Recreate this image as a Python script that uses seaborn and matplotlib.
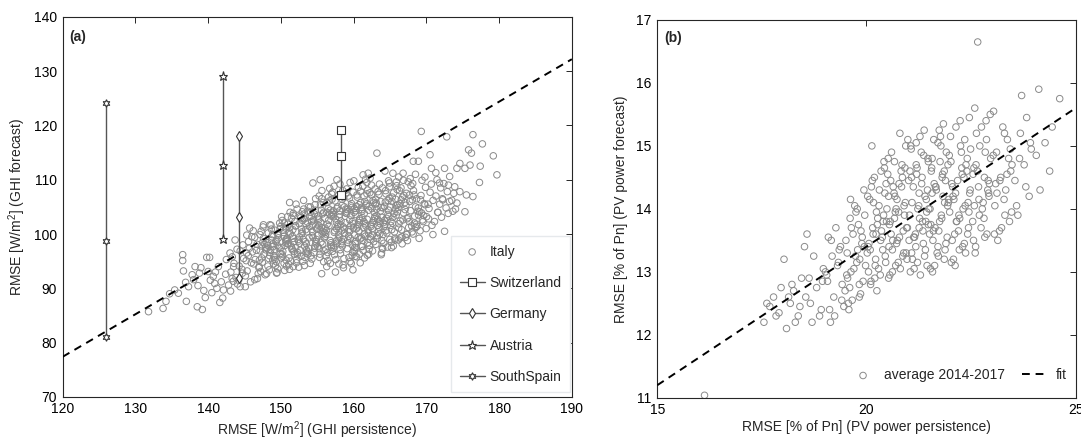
import matplotlib
matplotlib.use("Agg")
import matplotlib.pyplot as plt
import seaborn as sns

# --- DATA: panel (a), GHI forecast vs persistence ---
italy_x = [
    131.8, 133.8, 134.2, 134.7, 135.9, 135.4, 136.5, 136.5, 136.6, 137.0, 137.3, 138.0, 138.2, 138.5, 139.2,
    138.6, 139.4, 139.8, 140.2, 140.0, 140.7, 140.9, 141.6, 142.0, 142.1, 141.4, 142.5, 143.0, 143.7, 143.5,
    144.4, 145.1, 145.7, 146.0, 145.3, 146.4, 147.6, 148.5, 148.9, 150.1, 151.2, 151.7, 150.8, 149.4, 151.7,
    153.5, 154.4, 155.4, 156.3, 156.8, 157.7, 158.6, 159.5, 160.4, 161.3, 162.0, 163.2, 163.8, 164.3, 165.4,
    165.7, 166.8, 168.2, 168.9, 169.3, 170.5, 170.7, 169.0, 170.9, 172.5, 172.8, 172.5, 173.0, 174.2, 174.6,
    175.3, 175.8, 176.4, 176.2, 176.0, 177.4, 177.7, 179.2, 179.7, 177.3, 176.4, 175.3, 174.2, 173.9, 174.6,
    175.5, 137.8, 139.0, 140.3, 141.0, 141.8, 142.4, 139.6, 140.5, 141.2, 142.8, 143.3, 138.8, 136.9,
    164.8, 166.2, 167.5, 168.5, 169.8, 171.3, 171.8, 173.2, 172.2, 173.5, 174.0, 171.6, 170.3, 168.7, 167.3,
    166.4, 165.2, 164.0, 162.6, 161.5, 160.9, 159.9, 157.5, 155.6,
    143.12, 143.55, 143.83, 143.31, 143.97, 143.46, 143.08,
    144.71, 144.26, 144.88, 144.40, 144.64, 144.19, 144.77, 144.03,
    145.36, 145.92, 145.51, 145.67, 145.23, 145.12, 145.55, 145.83, 145.31,
    146.97, 146.46, 146.08, 146.71, 146.26, 146.88, 146.40, 146.64, 146.19, 146.77,
    147.03, 147.36, 147.92, 147.51, 147.67, 147.23, 147.12, 147.55, 147.83, 147.31,
    148.97, 148.46, 148.08, 148.71, 148.26, 148.88, 148.40, 148.64, 148.19, 148.77, 148.03,
    149.36, 149.92, 149.51, 149.67, 149.23, 149.12, 149.55, 149.83, 149.31, 149.97, 149.46, 149.08,
    150.71, 150.26, 150.88, 150.40, 150.64, 150.19, 150.77, 150.03, 150.36, 150.92, 150.51, 150.67, 150.23,
    151.12, 151.55, 151.83, 151.31, 151.97, 151.46, 151.08, 151.71, 151.26, 151.88, 151.40, 151.64, 151.19,
    152.77, 152.03, 152.36, 152.92, 152.51, 152.67, 152.23, 152.12, 152.55, 152.83, 152.31, 152.97, 152.46, 152.08,
    153.71, 153.26, 153.88, 153.40, 153.64, 153.19, 153.77, 153.03, 153.36, 153.92, 153.51, 153.67, 153.23, 153.12,
    154.55, 154.83, 154.31, 154.97, 154.46, 154.08, 154.71, 154.26, 154.88, 154.40, 154.64, 154.19, 154.77, 154.03, 154.36,
    155.92, 155.51, 155.67, 155.23, 155.12, 155.55, 155.83, 155.31, 155.97, 155.46, 155.08, 155.71, 155.26, 155.88, 155.40, 155.64,
    156.19, 156.77, 156.03, 156.36, 156.92, 156.51, 156.67, 156.23, 156.12, 156.55, 156.83, 156.31, 156.97, 156.46, 156.08, 156.71,
    157.26, 157.88, 157.40, 157.64, 157.19, 157.77, 157.03, 157.36, 157.92, 157.51, 157.67, 157.23, 157.12, 157.55, 157.83, 157.31, 157.97,
    158.46, 158.08, 158.71, 158.26, 158.88, 158.40, 158.64, 158.19, 158.77, 158.03, 158.36, 158.92, 158.51, 158.67, 158.23, 158.12, 158.55,
    159.83, 159.31, 159.97, 159.46, 159.08, 159.71, 159.26, 159.88, 159.40, 159.64, 159.19, 159.77, 159.03, 159.36, 159.92, 159.51, 159.67,
    160.23, 160.12, 160.55, 160.83, 160.31, 160.97, 160.46, 160.08, 160.71, 160.26, 160.88, 160.40, 160.64, 160.19, 160.77, 160.03, 160.36,
    161.92, 161.51, 161.67, 161.23, 161.12, 161.55, 161.83, 161.31, 161.97, 161.46, 161.08, 161.71, 161.26, 161.88, 161.40, 161.64, 161.19,
    162.77, 162.03, 162.36, 162.92, 162.51, 162.67, 162.23, 162.12, 162.55, 162.83, 162.31, 162.97, 162.46, 162.08, 162.71, 162.26,
    163.88, 163.40, 163.64, 163.19, 163.77, 163.03, 163.36, 163.92, 163.51, 163.67, 163.23, 163.12, 163.55, 163.83, 163.31,
    164.97, 164.46, 164.08, 164.71, 164.26, 164.88, 164.40, 164.64, 164.19, 164.77, 164.03, 164.36, 164.92, 164.51,
    165.67, 165.23, 165.12, 165.55, 165.83, 165.31, 165.97, 165.46, 165.08, 165.71, 165.26, 165.88, 165.40,
    166.64, 166.19, 166.77, 166.03, 166.36, 166.92, 166.51, 166.67, 166.23, 166.12, 166.55, 166.83,
    167.31, 167.97, 167.46, 167.08, 167.71, 167.26, 167.88, 167.40, 167.64, 167.19, 167.77,
    168.03, 168.36, 168.92, 168.51, 168.67, 168.23, 168.12, 168.55, 168.83, 168.31,
    169.97, 169.46, 169.08, 169.71, 169.26, 169.88, 169.40, 169.64, 169.19,
    170.77, 170.03, 170.36, 170.92, 170.51, 170.67, 170.23,
    171.12, 171.55, 171.83, 171.31, 171.97, 171.46,
    172.08, 172.71, 172.26, 172.88, 172.40,
    173.64, 173.19, 173.77, 173.03,
]
italy_y = [
    85.7, 86.3, 87.6, 89.0, 89.1, 89.7, 96.2, 95.1, 93.2, 87.6, 90.3, 91.6, 94.0, 86.6, 86.1,
    90.5, 89.6, 95.7, 95.7, 93.1, 92.2, 90.9, 87.4, 88.2, 89.7, 94.0, 95.3, 96.5, 98.9, 94.0,
    90.3, 90.3, 101.1, 99.5, 96.5, 91.6, 101.7, 101.7, 97.7, 103.2, 105.8, 103.8, 98.9, 92.8, 94.0,
    96.5, 109.4, 110.0, 94.0, 94.6, 110.0, 93.8, 94.9, 95.8, 110.9, 111.2, 114.9, 96.2, 111.6, 111.2,
    98.9, 111.2, 113.4, 113.4, 118.9, 114.6, 112.1, 99.2, 99.9, 112.1, 117.9, 100.5, 103.8, 112.1, 113.0,
    112.1, 115.5, 118.3, 114.9, 112.7, 112.5, 116.6, 114.4, 110.9, 109.5, 106.9, 104.1, 105.7, 108.7, 107.8,
    107.2, 92.5, 93.8, 91.5, 93.0, 91.2, 92.6, 88.3, 89.2, 90.0, 90.6, 91.8, 92.8, 91.1,
    109.8, 110.5, 109.6, 111.0, 110.5, 111.3, 109.4, 110.6, 106.5, 106.2, 104.6, 104.0, 102.8, 101.4, 100.0,
    99.3, 97.5, 97.3, 96.9, 95.6, 94.7, 93.4, 93.0, 92.7,
    93.0, 94.6, 92.0, 95.8, 97.2, 91.3, 89.5,
    92.8, 94.1, 95.5, 96.9, 93.5, 91.5, 98.0, 90.8,
    93.2, 94.7, 96.0, 97.4, 95.1, 92.3, 98.6, 91.2, 99.8,
    93.8, 95.3, 96.7, 98.1, 94.5, 92.7, 99.4, 97.0, 100.6, 91.8,
    94.0, 95.6, 97.1, 98.5, 96.3, 93.1, 99.9, 101.3, 92.5, 97.8,
    94.5, 96.0, 97.4, 98.9, 100.2, 95.2, 93.4, 101.6, 97.9, 99.5, 92.7,
    94.9, 96.4, 97.9, 99.3, 100.7, 95.7, 93.6, 102.0, 98.6, 101.4, 92.9, 97.1,
    95.2, 96.8, 98.2, 99.6, 101.1, 102.5, 94.1, 97.5, 100.3, 103.2, 93.3, 98.9, 95.9,
    95.6, 97.1, 98.6, 100.0, 101.5, 102.9, 94.4, 99.2, 104.0, 96.3, 97.8, 100.8, 93.5,
    95.9, 97.5, 99.0, 100.4, 101.9, 103.3, 104.6, 94.7, 98.3, 100.9, 96.6, 102.5, 93.9, 105.5,
    96.3, 97.8, 99.3, 100.8, 102.2, 103.7, 105.0, 95.0, 98.6, 101.4, 97.1, 104.2, 94.2, 106.2,
    96.6, 98.2, 99.7, 101.1, 102.6, 104.0, 105.4, 95.4, 99.0, 101.8, 97.4, 103.3, 106.5, 94.6, 100.4,
    96.9, 98.5, 100.0, 101.5, 102.9, 104.4, 105.8, 95.7, 99.3, 102.2, 97.7, 103.7, 107.0, 94.9, 100.8, 108.0,
    97.2, 98.8, 100.3, 101.8, 103.3, 104.7, 106.1, 96.0, 99.6, 102.5, 98.0, 104.0, 107.4, 95.1, 101.1, 108.4,
    97.5, 99.1, 100.6, 102.1, 103.6, 105.0, 106.4, 96.2, 99.9, 102.8, 98.3, 104.3, 107.7, 95.3, 101.4, 108.8, 94.5,
    97.8, 99.4, 100.9, 102.4, 103.9, 105.3, 106.7, 96.4, 100.2, 103.1, 98.6, 104.6, 108.0, 95.5, 101.7, 109.2, 94.3,
    98.0, 99.6, 101.1, 102.6, 104.1, 105.6, 107.0, 96.6, 100.4, 103.4, 98.9, 104.9, 108.3, 95.7, 101.9, 109.5, 94.6,
    98.2, 99.8, 101.3, 102.8, 104.3, 105.8, 107.2, 96.8, 100.6, 103.6, 99.1, 105.1, 108.6, 95.9, 102.1, 109.8, 97.5,
    98.4, 100.0, 101.5, 103.0, 104.5, 106.0, 107.4, 97.0, 100.8, 103.8, 99.3, 105.3, 108.8, 96.1, 102.3, 110.1, 97.7,
    98.6, 100.2, 101.7, 103.2, 104.7, 106.2, 107.6, 97.2, 101.0, 104.0, 99.5, 105.5, 109.0, 96.3, 102.5, 110.3,
    98.8, 100.4, 101.9, 103.4, 104.9, 106.4, 107.8, 97.4, 101.2, 104.2, 99.7, 105.7, 109.2, 96.5, 102.7,
    99.0, 100.6, 102.1, 103.6, 105.1, 106.6, 108.0, 97.6, 101.4, 104.4, 99.9, 105.9, 109.4, 102.9,
    99.2, 100.8, 102.3, 103.8, 105.3, 106.8, 108.2, 97.8, 101.6, 104.6, 106.0, 109.6, 103.1,
    99.5, 101.1, 102.6, 104.1, 105.6, 107.1, 108.5, 98.2, 101.9, 104.9, 106.3, 109.9,
    99.9, 101.5, 103.0, 104.5, 106.0, 107.5, 108.9, 98.8, 102.3, 105.3, 110.2,
    100.4, 102.0, 103.5, 105.0, 106.5, 108.0, 109.3, 101.2, 104.2, 107.2,
    101.0, 102.6, 104.1, 105.6, 107.1, 108.6, 109.9, 103.4, 106.3,
    101.6, 103.2, 104.7, 106.2, 107.7, 109.2, 105.5,
    102.3, 104.0, 105.5, 107.0, 108.5, 110.0,
    103.1, 104.8, 106.3, 107.8, 109.3,
    104.2, 106.0, 107.5, 109.0,
]
# second layer of the dense core
italy_x2 = [
    147.44, 147.15, 147.79, 147.60, 147.05, 147.89, 147.28,
    148.33, 148.58, 148.12, 148.84, 148.49, 148.68, 148.22, 148.93,
    149.18, 149.74, 149.42, 149.59, 149.03, 149.89, 149.27, 149.64,
    150.44, 150.14, 150.58, 150.83, 150.30, 150.97, 150.07, 150.70, 150.48,
    151.36, 151.77, 151.04, 151.58, 151.22, 151.93, 151.50, 151.15, 151.68,
    152.18, 152.62, 152.42, 152.88, 152.05, 152.73, 152.27, 152.58, 152.94,
    153.31, 153.83, 153.07, 153.57, 153.45, 153.96, 153.14, 153.70, 153.50, 153.22,
    154.13, 154.68, 154.42, 154.92, 154.21, 154.59, 154.05, 154.80, 154.33, 154.74,
    155.37, 155.74, 155.05, 155.58, 155.19, 155.89, 155.44, 155.62, 155.28, 155.80, 155.11,
    156.42, 156.88, 156.16, 156.61, 156.05, 156.79, 156.34, 156.55, 156.93, 156.27, 156.70,
    157.08, 157.59, 157.33, 157.86, 157.17, 157.72, 157.45, 157.95, 157.26, 157.64, 157.02,
    158.15, 158.60, 158.33, 158.83, 158.06, 158.73, 158.44, 158.96, 158.29, 158.57, 158.11,
    159.12, 159.55, 159.33, 159.85, 159.05, 159.69, 159.43, 159.94, 159.24, 159.62, 159.16, 159.78,
    160.15, 160.61, 160.38, 160.86, 160.07, 160.74, 160.49, 160.95, 160.27, 160.58, 160.11, 160.80,
    161.04, 161.59, 161.36, 161.87, 161.15, 161.76, 161.45, 161.93, 161.29, 161.62, 161.09, 161.81,
    162.16, 162.58, 162.39, 162.86, 162.07, 162.74, 162.44, 162.95, 162.28, 162.63, 162.12,
    163.06, 163.58, 163.29, 163.84, 163.15, 163.72, 163.47, 163.96, 163.25, 163.61,
    164.14, 164.57, 164.32, 164.84, 164.06, 164.75, 164.45, 164.93, 164.23,
    165.18, 165.61, 165.35, 165.86, 165.04, 165.77, 165.50, 165.93,
    166.15, 166.59, 166.40, 166.87, 166.06, 166.72, 166.30,
    167.13, 167.56, 167.35, 167.84, 167.04, 167.68,
    168.18, 168.62, 168.40, 168.88, 168.07,
    169.13, 169.55, 169.34, 169.82,
]
italy_y2 = [
    94.8, 96.9, 98.1, 99.2, 95.2, 97.6, 100.5,
    95.5, 97.0, 98.4, 99.9, 96.6, 100.9, 94.1, 98.2,
    95.3, 97.4, 98.9, 100.1, 96.0, 101.0, 94.2, 99.8,
    94.6, 96.3, 97.9, 99.2, 100.7, 101.8, 95.6, 98.6, 102.0,
    95.0, 96.8, 98.2, 99.6, 101.2, 102.3, 97.4, 100.4, 103.4,
    95.3, 97.0, 98.7, 100.1, 101.5, 103.0, 96.2, 99.5, 104.1,
    95.7, 97.4, 99.0, 100.4, 101.9, 103.2, 104.6, 96.7, 98.2, 102.8,
    96.0, 97.8, 99.4, 100.9, 102.3, 103.7, 105.0, 98.6, 101.5, 104.4,
    96.3, 98.1, 99.7, 101.2, 102.6, 104.0, 105.4, 106.5, 97.3, 100.4, 103.3,
    96.6, 98.4, 100.0, 101.5, 102.9, 104.4, 105.8, 106.8, 97.6, 100.7, 103.7,
    96.8, 98.7, 100.3, 101.8, 103.3, 104.7, 106.1, 107.2, 97.9, 101.0, 104.0,
    97.1, 99.0, 100.6, 102.1, 103.6, 105.0, 106.4, 107.5, 98.2, 101.3, 104.3,
    97.3, 99.2, 100.8, 102.3, 103.8, 105.2, 106.6, 107.7, 98.4, 101.5, 104.5, 96.1,
    97.5, 99.4, 101.0, 102.5, 104.0, 105.4, 106.8, 107.9, 98.6, 101.7, 104.7, 96.3,
    97.7, 99.6, 101.2, 102.7, 104.2, 105.6, 107.0, 108.1, 98.8, 101.9, 104.9, 109.5,
    97.9, 99.8, 101.4, 102.9, 104.4, 105.8, 107.2, 108.3, 99.0, 102.1, 105.1,
    98.1, 100.0, 101.6, 103.1, 104.6, 106.0, 107.3, 108.5, 99.2, 102.3,
    98.3, 100.2, 101.8, 103.3, 104.8, 106.2, 107.4, 108.7, 102.5,
    98.5, 100.4, 102.0, 103.5, 105.0, 106.4, 107.6, 108.9,
    98.9, 100.8, 102.4, 103.9, 105.4, 106.8, 108.0,
    99.4, 101.2, 102.8, 104.3, 105.8, 107.2,
    100.0, 101.8, 103.3, 104.8, 106.3,
    100.6, 102.3, 103.9, 105.4,
]

country_names = ["Switzerland", "Germany", "Austria", "SouthSpain"]
country_x = [158.3, 144.2, 142.1, 125.9]
country_max = [119.1, 118.0, 129.1, 124.1]
country_mid = [114.4, 103.2, 112.8, 98.7]
country_min = [107.1, 91.9, 99.1, 81.1]
country_markers = ["s", "d", "*", (6, 1, 0)]

fit_a_x = [120, 190]
fit_a_y = [77.4, 132.2]

# --- DATA: panel (b), PV power forecast vs persistence ---
pv_x = [
    17.62, 17.91, 17.55, 17.78, 17.69, 17.96, 17.84,
    18.09, 18.37, 18.18, 18.26, 18.45, 18.03, 18.30, 18.14, 18.41, 18.22,
    18.70, 18.92, 18.55, 18.81, 18.63, 18.97, 18.74, 18.58, 18.88, 18.66, 18.95, 18.52,
    19.14, 19.46, 19.22, 19.42, 19.05, 19.31, 19.18, 19.38, 19.09, 19.27, 19.49, 19.02, 19.35, 19.12,
    19.58, 19.86, 19.92, 19.63, 19.77, 19.54, 19.89, 19.68, 19.81, 19.96, 19.72, 19.60, 19.84, 19.51, 19.75, 19.94,
    20.10, 20.33, 20.21, 20.45, 20.04, 20.38, 20.15, 20.27, 20.49, 20.08, 20.31, 20.19, 20.42, 20.02, 20.36, 20.24, 20.47, 20.13,
    20.53, 20.81, 20.97, 20.62, 20.74, 20.88, 20.57, 20.69, 20.93, 20.66, 20.78, 20.51, 20.85, 20.60, 20.99, 20.72, 20.55, 20.90, 20.64, 20.83,
    21.29, 21.45, 21.08, 21.36, 21.17, 21.48, 21.03, 21.25, 21.40, 21.12, 21.33, 21.21, 21.47, 21.06, 21.38, 21.15, 21.27, 21.43, 21.01, 21.19,
    21.58, 21.86, 21.71, 21.93, 21.64, 21.80, 21.52, 21.97, 21.67, 21.89, 21.55, 21.76, 21.91, 21.61, 21.84, 21.73, 21.99, 21.57, 21.82,
    22.12, 22.37, 22.05, 22.44, 22.23, 22.31, 22.09, 22.48, 22.18, 22.40, 22.02, 22.27, 22.35, 22.14, 22.46, 22.21, 22.07, 22.33,
    22.61, 22.88, 22.54, 22.77, 22.93, 22.68, 22.82, 22.57, 22.97, 22.71, 22.63, 22.86, 22.59, 22.66, 22.79, 22.91,
    23.14, 23.42, 23.07, 23.33, 23.21, 23.48, 23.11, 23.37, 23.26, 23.04, 23.45,
    23.62, 23.89, 23.55, 23.77, 23.94, 23.68, 23.83, 23.71,
    24.15, 24.38, 24.06, 24.27, 24.44, 24.12,
    24.62, 16.13,
    19.66, 19.53, 19.79, 19.87, 19.62, 19.98,
    20.29, 20.06, 20.40, 20.17, 20.35, 20.11, 20.44, 20.23,
    20.76, 20.59, 20.91, 20.68, 20.86, 20.52, 20.95, 20.71, 20.80,
    21.10, 21.35, 21.23, 21.46, 21.04, 21.31, 21.18, 21.42, 21.28,
    21.69, 21.54, 21.87, 21.62, 21.95, 21.78, 21.59, 21.83, 21.74,
    22.30, 22.16, 22.43, 22.04, 22.38, 22.25, 22.11, 22.47,
    22.74, 22.58, 22.90, 22.65, 22.84, 22.96,
    23.29, 23.09, 23.40, 23.18,
    19.24, 19.41, 19.07, 19.33, 19.16,
    19.57, 19.83, 19.70, 19.95, 19.64, 19.78,
    20.20, 20.46, 20.09, 20.34, 20.26, 20.41, 20.03, 20.14,
    20.62, 20.87, 20.54, 20.79, 20.96, 20.67, 20.73, 20.58, 20.92,
    21.14, 21.39, 21.02, 21.26, 21.44, 21.09, 21.32, 21.20, 21.48, 21.07,
    21.63, 21.88, 21.51, 21.75, 21.94, 21.66, 21.81, 21.56, 21.98, 21.71,
    22.08, 22.34, 22.20, 22.45, 22.13, 22.29, 22.41, 22.01, 22.24,
    22.56, 22.81, 22.69, 22.94, 22.62, 22.87, 22.75,
    23.23, 23.47, 23.12, 23.36, 23.03, 23.30,
    23.59, 23.81, 23.66, 23.92,
]
pv_y = [
    12.50, 12.35, 12.20, 12.60, 12.45, 12.75, 12.30,
    12.10, 12.30, 12.50, 12.70, 12.90, 13.20, 12.20, 12.60, 12.45, 12.80,
    12.20, 12.40, 12.60, 12.75, 12.90, 13.05, 13.25, 13.60, 12.30, 12.50, 12.85, 13.40,
    12.20, 12.45, 12.60, 12.80, 12.95, 13.10, 13.25, 13.40, 13.55, 13.70, 12.70, 13.00, 13.35, 12.40,
    12.40, 12.65, 12.85, 13.00, 13.15, 13.30, 13.45, 13.60, 13.75, 13.90, 14.05, 12.75, 13.20, 13.50, 13.95, 14.30,
    12.80, 12.95, 13.10, 13.25, 13.40, 13.55, 13.70, 13.85, 14.00, 14.15, 14.30, 14.50, 14.75, 13.30, 13.65, 13.95, 14.40, 15.00,
    12.90, 13.05, 13.20, 13.35, 13.50, 13.65, 13.80, 13.95, 14.10, 14.25, 14.40, 14.55, 14.70, 14.90, 15.10, 13.45, 13.75, 14.05, 14.35, 14.60,
    12.95, 13.10, 13.30, 13.45, 13.60, 13.75, 13.90, 14.05, 14.20, 14.35, 14.50, 14.65, 14.80, 15.00, 15.25, 13.55, 13.85, 14.15, 14.45, 14.70,
    13.00, 13.20, 13.40, 13.55, 13.70, 13.85, 14.00, 14.15, 14.30, 14.45, 14.60, 14.75, 14.90, 15.10, 15.35, 13.65, 13.95, 14.25, 14.55,
    13.10, 13.30, 13.50, 13.70, 13.85, 14.00, 14.15, 14.30, 14.45, 14.60, 14.75, 14.90, 15.10, 15.30, 15.45, 13.90, 14.20, 14.50,
    13.40, 13.60, 13.80, 14.00, 14.20, 14.35, 14.50, 14.65, 14.80, 15.00, 15.20, 15.40, 15.60, 16.65, 14.10, 14.45,
    13.50, 13.80, 14.05, 14.30, 14.50, 14.70, 14.90, 15.10, 15.30, 15.55, 14.60,
    13.90, 14.20, 14.45, 14.70, 14.95, 15.20, 15.45, 15.80,
    14.30, 14.60, 14.85, 15.05, 15.30, 15.90,
    15.75, 11.04,
    12.55, 12.95, 13.35, 13.65, 14.15, 13.10,
    13.05, 13.45, 13.80, 14.10, 14.60, 12.85, 14.25, 13.60,
    13.15, 13.60, 13.90, 14.20, 14.50, 14.80, 13.30, 14.00, 15.20,
    13.20, 13.65, 14.00, 14.30, 14.60, 14.90, 13.40, 13.80, 15.15,
    13.30, 13.75, 14.10, 14.40, 14.70, 15.00, 13.50, 14.20, 15.25,
    13.40, 13.80, 14.10, 14.40, 14.70, 15.00, 13.60, 14.25,
    13.70, 14.05, 14.30, 14.60, 14.90, 15.50,
    14.15, 14.40, 14.80, 13.65,
    12.30, 12.55, 12.85, 13.15, 13.50,
    12.50, 12.80, 13.05, 13.40, 13.70, 14.00,
    12.90, 13.15, 13.35, 13.50, 13.75, 13.90, 14.20, 14.45,
    13.00, 13.25, 13.40, 13.55, 13.70, 13.85, 14.15, 14.45, 14.65,
    13.05, 13.25, 13.50, 13.70, 13.95, 14.10, 14.40, 14.55, 14.75, 14.95,
    13.10, 13.35, 13.60, 13.80, 14.05, 14.35, 14.50, 14.65, 14.85, 15.05,
    13.20, 13.45, 13.65, 13.95, 14.25, 14.55, 14.80, 15.15, 15.40,
    13.50, 13.85, 14.15, 14.40, 14.70, 15.10, 15.30,
    13.70, 13.95, 14.25, 14.55, 14.85, 15.20,
    14.05, 14.35, 14.80, 15.05,
]
# third layer of the dense PV core
pv_x3 = [
    19.55, 19.74, 19.90, 19.61, 19.83,
    20.05, 20.22, 20.39, 20.16, 20.48, 20.30, 20.12, 20.43, 20.25,
    20.56, 20.70, 20.89, 20.63, 20.98, 20.77, 20.53, 20.84, 20.67, 20.94,
    21.05, 21.22, 21.41, 21.13, 21.34, 21.49, 21.26, 21.08, 21.37, 21.19,
    21.53, 21.72, 21.90, 21.60, 21.79, 21.96, 21.65, 21.86, 21.57, 21.77,
    22.03, 22.22, 22.42, 22.15, 22.36, 22.06, 22.28, 22.49,
    22.60, 22.83, 22.70, 22.92, 22.55,
    23.06, 23.31, 23.19, 23.44,
]
pv_y3 = [
    12.90, 13.25, 13.55, 13.85, 12.60,
    13.00, 13.20, 13.35, 13.60, 13.80, 14.05, 14.35, 14.65, 12.70,
    12.95, 13.10, 13.30, 13.50, 13.70, 13.95, 14.20, 14.35, 14.75, 15.00,
    13.00, 13.15, 13.35, 13.55, 13.80, 14.00, 14.25, 14.50, 14.85, 15.05,
    13.05, 13.25, 13.45, 13.65, 13.90, 14.10, 14.35, 14.60, 14.80, 15.15,
    13.15, 13.35, 13.60, 13.80, 14.05, 14.35, 14.65, 14.95,
    13.30, 13.55, 13.90, 14.25, 14.55,
    13.60, 13.90, 14.45, 14.95,
]

fit_b_x = [15, 25]
fit_b_y = [11.2, 15.6]

# --- STYLE ---
sns.set_style("white")
plt.rcParams["font.family"] = ["Liberation Sans", "DejaVu Sans"]
plt.rcParams["mathtext.default"] = "regular"
plt.rcParams["font.size"] = 10
plt.rcParams["xtick.direction"] = "in"
plt.rcParams["ytick.direction"] = "in"

dot_grey = "#8a8a8a"
line_grey = "#555555"
edge_dark = "#333333"
axis_col = "#262626"

fig = plt.figure(figsize=(10.81, 4.43), dpi=100)
ax1 = fig.add_axes([0.058, 0.104, 0.471, 0.858])
ax2 = fig.add_axes([0.608, 0.102, 0.387, 0.853])

# panel (a)
sns.lineplot(x=fit_a_x, y=fit_a_y, ax=ax1, color="black", linestyle=(0, (4, 3)),
             linewidth=1.4, zorder=3)
sns.scatterplot(x=italy_x + italy_x2, y=italy_y + italy_y2, ax=ax1, marker="o", s=22,
                facecolor="none", edgecolor=dot_grey, linewidth=0.7, label="Italy", zorder=2)
for name, cx, hi, mid, lo, mk in zip(country_names, country_x, country_max,
                                     country_mid, country_min, country_markers):
    sns.lineplot(x=[cx, cx, cx], y=[lo, mid, hi], ax=ax1, estimator=None, sort=False,
                 color=line_grey, linewidth=1.0, marker=mk, markersize=6.5 if mk == "*" else 5.5,
                 markerfacecolor="white", markeredgecolor=edge_dark, markeredgewidth=0.8,
                 label=name, zorder=4)

ax1.set_xlim(120, 190)
ax1.set_ylim(70, 140)
ax1.set_xticks(range(120, 191, 10))
ax1.set_yticks(range(70, 141, 10))
ax1.set_xlabel("RMSE [W/m$^2$] (GHI persistence)", labelpad=2)
ax1.set_ylabel("RMSE [W/m$^2$] (GHI forecast)", labelpad=4)
ax1.text(0.012, 0.965, "(a)", transform=ax1.transAxes, fontweight="bold",
         fontsize=10, va="top", ha="left")
ax1.legend(loc="lower right", bbox_to_anchor=(0.996, 0.012), borderaxespad=0,
           labelspacing=1.25, handlelength=1.8, handletextpad=0.35,
           fancybox=False, framealpha=1, edgecolor="#e6e9ec", fontsize=10,
           borderpad=0.6)

# panel (b)
sns.scatterplot(x=pv_x + pv_x3, y=pv_y + pv_y3, ax=ax2, marker="o", s=22, facecolor="none",
                edgecolor=dot_grey, linewidth=0.7, label="average 2014-2017", zorder=2)
sns.lineplot(x=fit_b_x, y=fit_b_y, ax=ax2, color="black", linestyle=(0, (4, 3)),
             linewidth=1.4, label="fit", zorder=3)
ax2.set_xlim(15, 25)
ax2.set_ylim(11, 17)
ax2.set_xticks([15, 20, 25])
ax2.set_yticks(range(11, 18))
ax2.set_xlabel("RMSE [% of Pn] (PV power persistence)", labelpad=2)
ax2.set_ylabel("RMSE [% of Pn] (PV power forecast)", labelpad=6)
ax2.text(0.017, 0.972, "(b)", transform=ax2.transAxes, fontweight="bold",
         fontsize=10, va="top", ha="left")
ax2.legend(loc="center right", bbox_to_anchor=(1.0, 0.06), ncol=2, frameon=False,
           handlelength=2.0, handletextpad=0.5, columnspacing=1.2, fontsize=10,
           borderaxespad=0.2)

for ax in (ax1, ax2):
    for sp in ax.spines.values():
        sp.set_color(axis_col)
        sp.set_linewidth(0.8)
    ax.tick_params(axis="both", which="both", direction="in", length=4, width=0.7,
                   top=True, right=True, colors=axis_col, labelcolor="black",
                   labelsize=10, pad=4)

fig.savefig("out.png", dpi=100)
